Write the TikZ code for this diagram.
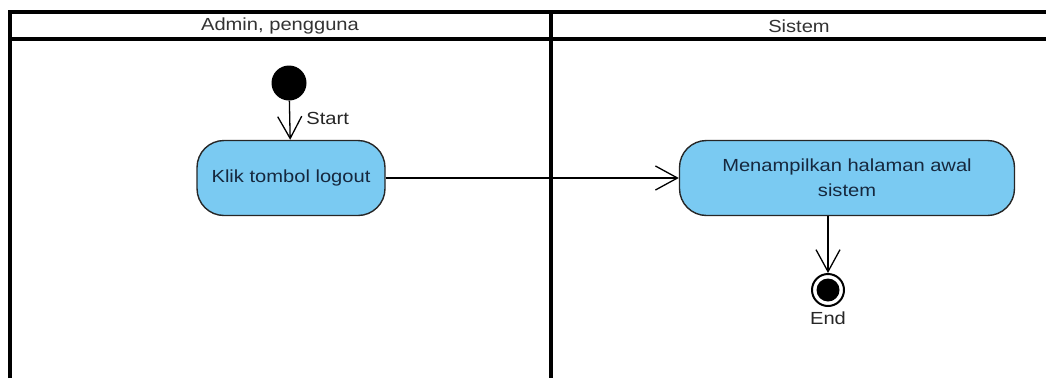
\documentclass[tikz,border=0pt]{standalone}
\usepackage{fontspec}
\setmainfont[FakeStretch=1.15]{Liberation Sans}
\usepackage{tikz}
\usetikzlibrary{arrows.meta, positioning, calc}
\definecolor{actFill}{RGB}{122,202,242}
\definecolor{actText}{RGB}{22,40,62}
\tikzset{
    laneLine/.style={line width=3.2pt, black},
    laneTitle/.style={font=\fontsize{17.5}{21}\selectfont, text=black!80},
    action/.style={rectangle, rounded corners=27pt, draw=black!85, line width=1.4pt, fill=actFill, text=actText, align=center, font=\fontsize{17.5}{25}\selectfont, inner sep=0pt},
    initNode/.style={circle, fill=black, inner sep=0pt, minimum size=35pt},
    finalNode/.style={circle, draw=black, line width=2pt, fill=white, inner sep=0pt, minimum size=32pt},
    flowEdge/.style={-{Straight Barb[length=22pt, width=24pt, line width=1.3pt]}, line width=1.3pt},
    smallLabel/.style={font=\fontsize{17.5}{21}\selectfont, text=black!85, inner sep=1pt},
}

\begin{document}
\begin{tikzpicture}[x=1pt, y=-1pt]

    \useasboundingbox (0,0) rectangle (1046,378);

    % swimlanes
    \draw[laneLine] (10,378) -- (10,12) -- (1046,12);
    \draw[laneLine] (10,39) -- (1046,39);
    \draw[laneLine] (551,12) -- (551,378);
    \node[laneTitle] (lane1) at (280,26) {Admin, pengguna};
    \node[laneTitle] (lane2) at (799,26) {Sistem};

    % nodes
    \node[initNode] (start) at (289,83) {};
    \node[action, minimum width=188pt, minimum height=75pt] (logout) at (291,178) {Klik tombol logout};
    \node[action, minimum width=335pt, minimum height=75pt] (home) at (847,178) {Menampilkan halaman awal\\sistem};
    \node[finalNode] (end) at (828,290) {};
    \fill (end) circle (11.5pt);
    \node[smallLabel, below=4pt of end] (endLabel) {End};

    % flows
    \draw[flowEdge] (start) -- node[smallLabel, anchor=west, xshift=15pt, pos=0.45] (startLabel) {Start} (logout);
    \draw[flowEdge] (logout) -- (home);
    \draw[flowEdge] (home.south -| end) -- (end);

\end{tikzpicture}
\end{document}
